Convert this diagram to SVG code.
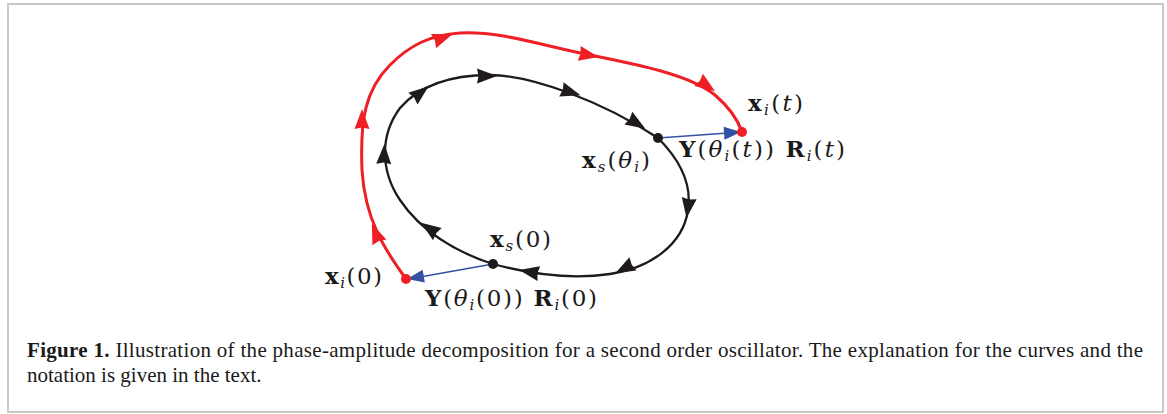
<svg xmlns="http://www.w3.org/2000/svg" width="1167" height="414" viewBox="0 0 1167 414">
<style>
.frame{fill:#fff;stroke:#c8c8c8;stroke-width:2}
.cyc{fill:none;stroke:#1f1a1c;stroke-width:2.3}
.traj{fill:none;stroke:#ee1f25;stroke-width:3}
.vec{fill:none;stroke:#3451a3;stroke-width:1.3}
.lbl{font-family:"DejaVu Serif","Liberation Serif",serif;font-size:23px;fill:#1a1a1a}
.b{font-weight:bold}
.it{font-style:italic}
.sub{font-style:italic;font-size:15px}
.cap{font-family:"Liberation Serif","DejaVu Serif",serif;font-size:21px;fill:#1a1a1a}
</style>
<defs>
<path id="ah" d="M11,0 L-9,-7.5 L-7.5,0 L-9,7.5 Z"/>
<path id="bh" d="M0,0 L-17,-6.5 L-17,6.5 Z"/>
</defs>
<rect class="frame" x="8" y="4" width="1155" height="408"/>

<g id="connectors">
<g id="limit-cycle">
<path class="cyc" d="M658,138 C680,160 692,185 688,210 C683,245 650,268 610,274 C570,280 530,274 493,264 C455,252 420,230 400,200 C380,170 380,135 400,108 C420,85 450,75 490,75 C530,75 600,100 658,138 Z"/>
<g fill="#1f1a1c">
<use href="#ah" transform="translate(420,93) rotate(-38)"/>
<use href="#ah" transform="translate(486,76) rotate(0)"/>
<use href="#ah" transform="translate(570,92) rotate(17)"/>
<use href="#ah" transform="translate(636,123) rotate(32)"/>
<use href="#ah" transform="translate(688,207) rotate(98)"/>
<use href="#ah" transform="translate(625,268) rotate(152)"/>
<use href="#ah" transform="translate(530,272) rotate(190)"/>
<use href="#ah" transform="translate(430,229) rotate(215)"/>
<use href="#ah" transform="translate(384,155) rotate(-88)"/>
</g>
</g>
<g id="trajectory">
<path class="traj" d="M406,279 C385,250 365,220 362,170 C360,120 365,90 390,65 C410,45 430,35 460,33 C500,31 540,45 590,55 C640,65 690,75 715,95 C730,108 738,120 742,132"/>
<g fill="#ee1f25">
<use href="#ah" transform="translate(376,234) rotate(-112)"/>
<use href="#ah" transform="translate(362,120) rotate(-90)"/>
<use href="#ah" transform="translate(442,38) rotate(-20)"/>
<use href="#ah" transform="translate(588,55) rotate(11)"/>
<use href="#ah" transform="translate(706,85) rotate(35)"/>
</g>
</g>
<g id="vectors">
<line class="vec" x1="658" y1="138" x2="728" y2="133"/>
<use href="#bh" fill="#3451a3" transform="translate(741,132) rotate(-4)"/>
<line class="vec" x1="493" y1="264" x2="420" y2="277"/>
<use href="#bh" fill="#3451a3" transform="translate(407,279) rotate(170)"/>
</g>
</g>

<g id="node-xs-theta"><circle cx="658" cy="138" r="5" fill="#1f1a1c"/>
<text class="lbl" x="582" y="168" textLength="68" lengthAdjust="spacing"><tspan class="b">x</tspan><tspan class="sub" dy="4">s</tspan><tspan dy="-4">(</tspan><tspan class="it">θ</tspan><tspan class="sub" dy="4">i</tspan><tspan dy="-4">)</tspan></text></g>
<g id="node-xi-t"><circle cx="742" cy="132" r="5" fill="#ee1f25"/>
<text class="lbl" x="748" y="111" textLength="55" lengthAdjust="spacing"><tspan class="b">x</tspan><tspan class="sub" dy="4">i</tspan><tspan dy="-4">(</tspan><tspan class="it">t</tspan>)</text>
<text class="lbl" x="679" y="157" textLength="166" lengthAdjust="spacing"><tspan class="b">Y</tspan>(<tspan class="it">θ</tspan><tspan class="sub" dy="4">i</tspan><tspan dy="-4">(</tspan><tspan class="it">t</tspan>)) <tspan class="b">R</tspan><tspan class="sub" dy="4">i</tspan><tspan dy="-4">(</tspan><tspan class="it">t</tspan>)</text></g>
<g id="node-xs-0"><circle cx="493" cy="264" r="5" fill="#1f1a1c"/>
<text class="lbl" x="490" y="247" textLength="61" lengthAdjust="spacing"><tspan class="b">x</tspan><tspan class="sub" dy="4">s</tspan><tspan dy="-4">(0)</tspan></text></g>
<g id="node-xi-0"><circle cx="406" cy="279" r="5" fill="#ee1f25"/>
<text class="lbl" x="325" y="284" textLength="57" lengthAdjust="spacing"><tspan class="b">x</tspan><tspan class="sub" dy="4">i</tspan><tspan dy="-4">(0)</tspan></text>
<text class="lbl" x="425" y="306" textLength="172" lengthAdjust="spacing"><tspan class="b">Y</tspan>(<tspan class="it">θ</tspan><tspan class="sub" dy="4">i</tspan><tspan dy="-4">(0)) </tspan><tspan class="b">R</tspan><tspan class="sub" dy="4">i</tspan><tspan dy="-4">(0)</tspan></text></g>

<g id="caption">
<text class="cap" x="27" y="357" textLength="1116" lengthAdjust="spacing"><tspan font-weight="bold">Figure 1.</tspan> Illustration of the phase-amplitude decomposition for a second order oscillator. The explanation for the curves and the</text>
<text class="cap" x="27" y="382">notation is given in the text.</text>
</g>
</svg>
